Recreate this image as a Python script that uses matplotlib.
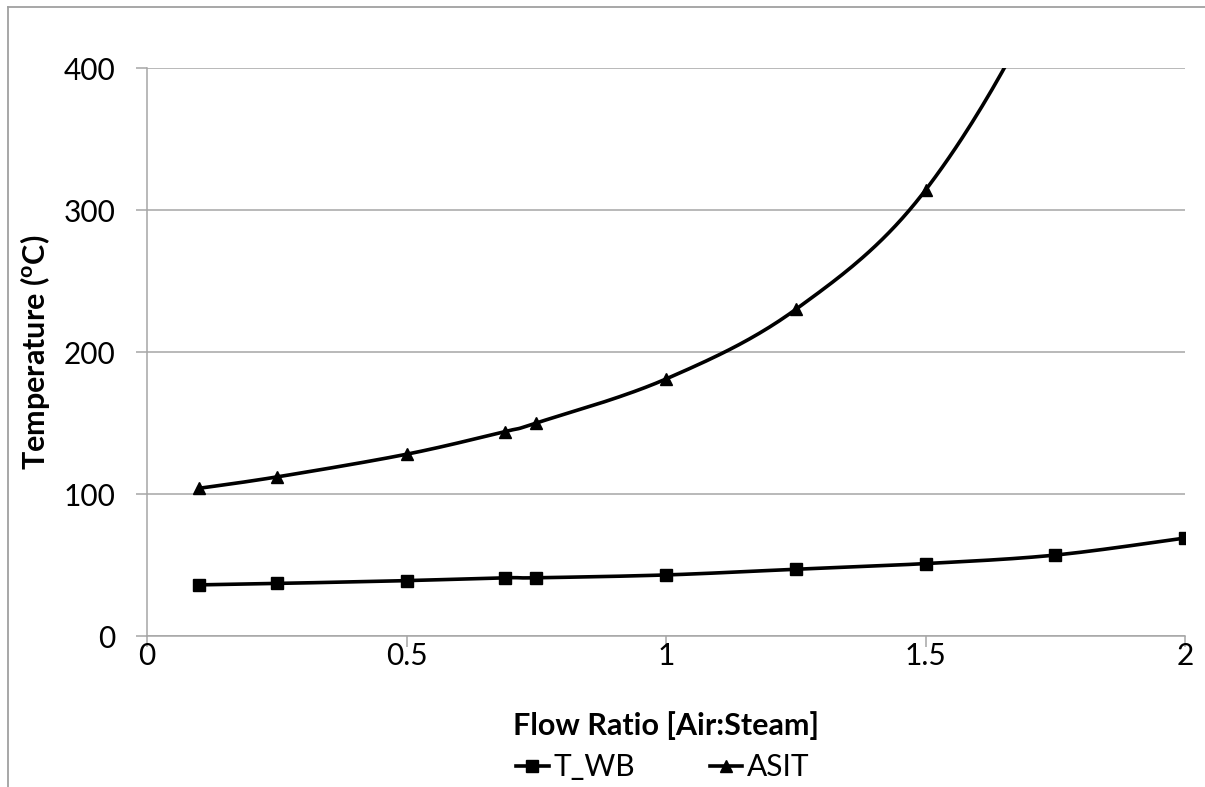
import numpy as np
import matplotlib
matplotlib.use("Agg")
import matplotlib.pyplot as plt
from matplotlib.lines import Line2D

plt.rcParams['font.family'] = ['Lato', 'DejaVu Sans']
plt.rcParams['mathtext.fontset'] = 'custom'
plt.rcParams['mathtext.rm'] = 'Lato:bold'
plt.rcParams['mathtext.it'] = 'Lato:bold'

# --- data ---
flow_ratio = [0.1, 0.25, 0.5, 0.69, 0.75, 1.0, 1.25, 1.5, 1.75, 2.0]
t_wb = [36, 37, 39, 41, 41, 43, 47, 51, 57, 69]
asit = [104, 112, 128, 144, 150, 181, 230, 314, 470, 700]

x_ticks = [0, 0.5, 1, 1.5, 2]
x_tick_labels = ['0', '0.5', '1', '1.5', '2']
y_ticks = [0, 100, 200, 300, 400]


def smooth(x, y, n=40):
    # Excel-like smoothed line (Catmull-Rom through the points)
    x = np.asarray(x, float)
    y = np.asarray(y, float)
    px = np.concatenate([[x[0]], x, [x[-1]]])
    py = np.concatenate([[y[0]], y, [y[-1]]])
    xs, ys = [], []
    t = np.linspace(0, 1, n)
    for i in range(1, len(px) - 2):
        p0, p1, p2, p3 = (np.array([px[j], py[j]]) for j in range(i - 1, i + 3))
        c1 = p1 + (p2 - p0) / 6
        c2 = p2 - (p3 - p1) / 6
        pts = ((1 - t) ** 3)[:, None] * p1 + (3 * (1 - t) ** 2 * t)[:, None] * c1 \
            + (3 * (1 - t) * t ** 2)[:, None] * c2 + (t ** 3)[:, None] * p2
        xs.extend(pts[:, 0])
        ys.extend(pts[:, 1])
    return np.array(xs), np.array(ys)


fig = plt.figure(figsize=(12.05, 7.87), dpi=100)
ax = fig.add_axes([147 / 1205, 1 - 636 / 787, (1185 - 147) / 1205, (636 - 68) / 787])

lw = 2.6
sx, sy = smooth(flow_ratio, t_wb)
ax.plot(sx, sy, color='black', lw=lw, zorder=3)
ax.plot(flow_ratio, t_wb, ls='none', marker='s', ms=8.5, color='black', zorder=4)

sx, sy = smooth(flow_ratio, asit)
ax.plot(sx, sy, color='black', lw=lw, zorder=3)
ax.plot(flow_ratio, asit, ls='none', marker='^', ms=8.5, color='black', zorder=4)

ax.set_xlim(0, 2)
ax.set_ylim(0, 400)
ax.set_xticks(x_ticks)
ax.set_xticklabels(x_tick_labels)
ax.set_yticks(y_ticks)
ax.grid(axis='y', color='#a6a6a6', lw=1.1)
ax.set_axisbelow(True)
for s in ['top', 'right']:
    ax.spines[s].set_visible(False)
for s in ['left', 'bottom']:
    ax.spines[s].set_color('#a6a6a6')
    ax.spines[s].set_linewidth(1.1)
ax.tick_params(axis='both', colors='#a6a6a6', length=8, width=1.1,
               labelcolor='black', labelsize=21.5)
ax.tick_params(axis='y', pad=15)
ax.tick_params(axis='x', pad=-4)

ax.set_xlabel('Flow Ratio [Air:Steam]', fontsize=22, fontweight='bold', va='center')
ax.set_ylabel('Temperature ($^{o}$C)', fontsize=22, fontweight='bold', va='center')
ax.xaxis.set_label_coords(0.5, -(726 - 636) / 568)
ax.yaxis.set_label_coords(-(112 / 1038), 0.5)

handles = [
    Line2D([], [], color='black', lw=lw, marker='s', ms=8.5),
    Line2D([], [], color='black', lw=lw, marker='^', ms=8.5),
]
fig.legend(handles, ['T_WB', 'ASIT'], loc='center', bbox_to_anchor=(0.55, 1 - 767 / 787),
           ncol=2, frameon=False, fontsize=21.5, handlelength=1.1, handletextpad=0.15,
           columnspacing=2.5)

# chart outer frame (left and top edges visible)
fig.add_artist(Line2D([8 / 1205, 8 / 1205], [0, 1 - 7 / 787], color='#a0a0a0', lw=1.3,
                      transform=fig.transFigure))
fig.add_artist(Line2D([8 / 1205, 1], [1 - 7 / 787, 1 - 7 / 787], color='#a0a0a0', lw=1.3,
                      transform=fig.transFigure))

fig.savefig('out.png', dpi=100)
